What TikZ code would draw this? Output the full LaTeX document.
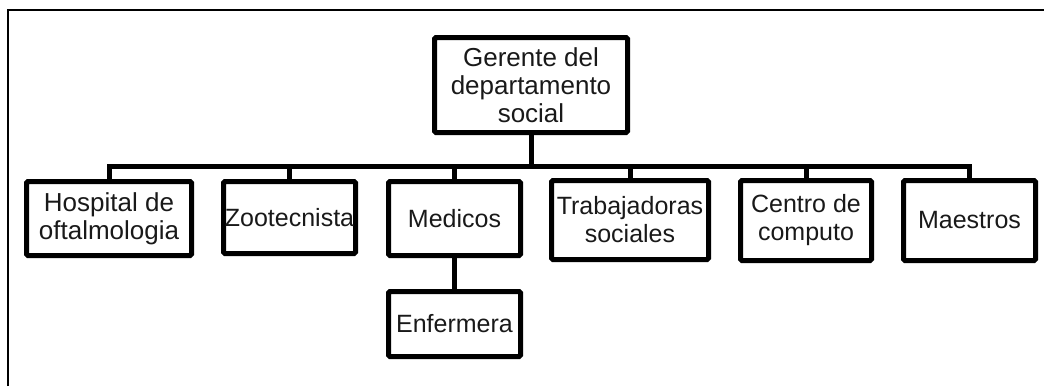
\documentclass[tikz,border=0pt]{standalone}
\usepackage{fontspec}
\setmainfont{Liberation Sans}
\begin{document}
\begin{tikzpicture}[x=1pt,y=-1pt,
  orgbox/.style={draw=black, line width=5pt, rounded corners=1.5pt, rectangle, inner sep=0pt,
    align=center, font=\fontsize{25}{28}\selectfont, text=black!90},
  bigtext/.style={font=\fontsize{26}{28}\selectfont},
  link/.style={draw=black, line width=5pt, line join=miter},
  frameline/.style={draw=black, line width=2pt}]
\useasboundingbox (0,0) rectangle (1044,386);
\coordinate (fb) at (7.5,386);
\coordinate (fc) at (7.5,10);
\coordinate (fr) at (1044,10);
\draw[frameline] (fb) -- (fc) -- (fr);

\node[orgbox, bigtext, minimum width=193pt, minimum height=95pt] (G) at (531,85) {Gerente del\\departamento\\social};
\node[orgbox, bigtext, minimum width=165pt, minimum height=74pt] (H) at (109,218.5) {Hospital de\\oftalmologia};
\node[orgbox, minimum width=132pt, minimum height=72pt] (Z) at (289.5,217.5) {Zootecnista};
\node[orgbox, minimum width=132pt, minimum height=74pt] (M) at (454.5,218.5) {Medicos};
\node[orgbox, minimum width=132pt, minimum height=65pt] (E) at (454.5,324) {Enfermera};
\node[orgbox, minimum width=157pt, minimum height=79pt] (T) at (630,220) {Trabajadoras\\sociales};
\node[orgbox, minimum width=131pt, minimum height=80pt] (C) at (806,220.5) {Centro de\\computo};
\node[orgbox, minimum width=132pt, minimum height=80pt] (Ma) at (969.5,220.5) {Maestros};

\coordinate (bus) at (0,166);
\draw[link] (G.south) -- (G.south |- bus);
\draw[link] (H.north) -- (H.north |- bus) -- (Ma.north |- bus) -- (Ma.north);
\draw[link] (Z.north) -- (Z.north |- bus);
\draw[link] (M.north) -- (M.north |- bus);
\draw[link] (T.north) -- (T.north |- bus);
\draw[link] (C.north) -- (C.north |- bus);
\draw[link] (M.south) -- (E.north);
\end{tikzpicture}
\end{document}
